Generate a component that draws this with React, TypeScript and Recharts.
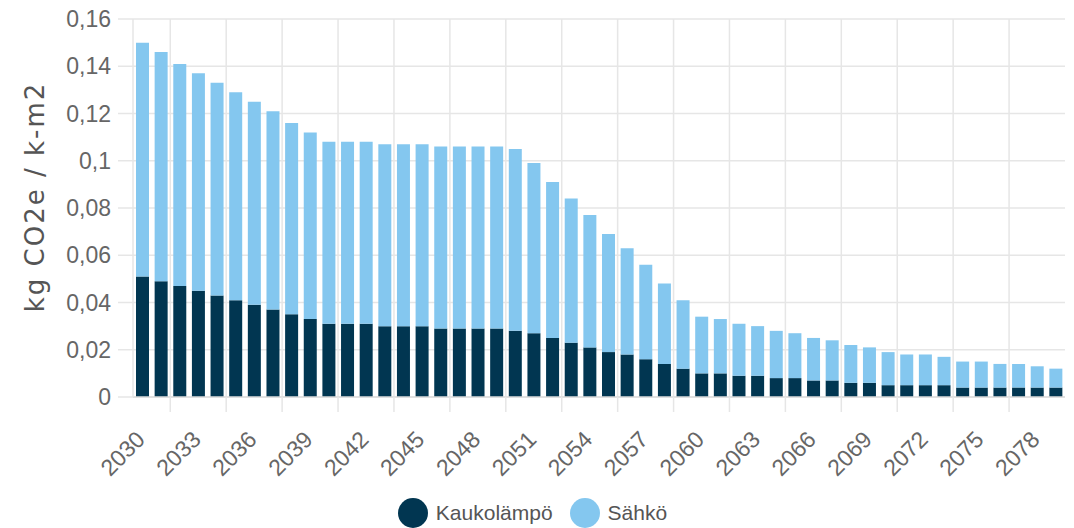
import React from "react";
import { BarChart, Bar, XAxis, YAxis, CartesianGrid, Legend, Label } from "recharts";

const years = [
  2030, 2031, 2032, 2033, 2034, 2035, 2036, 2037, 2038, 2039,
  2040, 2041, 2042, 2043, 2044, 2045, 2046, 2047, 2048, 2049,
  2050, 2051, 2052, 2053, 2054, 2055, 2056, 2057, 2058, 2059,
  2060, 2061, 2062, 2063, 2064, 2065, 2066, 2067, 2068, 2069,
  2070, 2071, 2072, 2073, 2074, 2075, 2076, 2077, 2078, 2079,
];

const kaukolampo = [
  0.051, 0.049, 0.047, 0.045, 0.043, 0.041, 0.039, 0.037, 0.035, 0.033,
  0.031, 0.031, 0.031, 0.030, 0.030, 0.030, 0.029, 0.029, 0.029, 0.029,
  0.028, 0.027, 0.025, 0.023, 0.021, 0.019, 0.018, 0.016, 0.014, 0.012,
  0.010, 0.010, 0.009, 0.009, 0.008, 0.008, 0.007, 0.007, 0.006, 0.006,
  0.005, 0.005, 0.005, 0.005, 0.004, 0.004, 0.004, 0.004, 0.004, 0.004,
];

const sahko = [
  0.099, 0.097, 0.094, 0.092, 0.090, 0.088, 0.086, 0.084, 0.081, 0.079,
  0.077, 0.077, 0.077, 0.077, 0.077, 0.077, 0.077, 0.077, 0.077, 0.077,
  0.077, 0.072, 0.066, 0.061, 0.056, 0.050, 0.045, 0.040, 0.034, 0.029,
  0.024, 0.023, 0.022, 0.021, 0.020, 0.019, 0.018, 0.017, 0.016, 0.015,
  0.014, 0.013, 0.013, 0.012, 0.011, 0.011, 0.010, 0.010, 0.009, 0.008,
];

const yTicks = [0, 0.02, 0.04, 0.06, 0.08, 0.1, 0.12, 0.14, 0.16];

const seriesNames = ["Kaukolämpö", "Sähkö"];
const seriesColors = ["#013651", "#84c7ef"];
const yTitle = "kg CO2e / k-m2";

const data = years.map((y, i) => ({
  year: y,
  kaukolampo: kaukolampo[i],
  sahko: sahko[i],
}));

const W = 1074;
const H = 528;
const MARGIN = { top: 19, right: 9, bottom: 0, left: 0 };
const Y_AXIS_W = 133;
const PLOT_W = W - MARGIN.left - MARGIN.right - Y_AXIS_W;
const GRID = "#e6e6e6";
const TICK_FONT = "'Liberation Sans', Arial, sans-serif";

const XTick = (props: any) => {
  const { x, y, payload } = props;
  const band = PLOT_W / years.length;
  const idx = years.indexOf(payload.value);
  const lx = x + 1.5 * band;
  const ax = x + 4;
  const ay = y + 44;
  return (
    <g>
      {idx + 2 < years.length && (
        <line x1={lx} x2={lx} y1={y} y2={y + 15} stroke={GRID} strokeWidth={1.5} />
      )}
      <text
        x={ax}
        y={ay}
        textAnchor="end"
        transform={`rotate(-45 ${ax} ${ay})`}
        fill="#666"
        fontSize={23}
        fontFamily={TICK_FONT}
      >
        {payload.value}
      </text>
    </g>
  );
};

const LegendContent = () => (
  <div
    style={{
      display: "flex",
      justifyContent: "center",
      alignItems: "center",
      height: 30,
      fontFamily: TICK_FONT,
      fontSize: 21,
      color: "#555",
    }}
  >
    {seriesNames.map((n, i) => (
      <div key={n} style={{ display: "flex", alignItems: "center", marginLeft: i ? 17 : 0 }}>
        <div
          style={{
            width: 30,
            height: 30,
            borderRadius: 15,
            background: seriesColors[i],
            marginRight: 8,
          }}
        />
        <span>{n}</span>
      </div>
    ))}
  </div>
);

const YTitle = (props: any) => {
  const vb = props.viewBox || {};
  const cx = (vb.x || 0) + 35;
  const cy = (vb.y || 0) + (vb.height || 0) / 2 - 11;
  return (
    <text
      x={cx}
      y={cy}
      textAnchor="middle"
      dominantBaseline="central"
      transform={`rotate(-90 ${cx} ${cy})`}
      fill="#555"
      fontSize={26}
      letterSpacing={2}
      fontFamily="'DejaVu Sans', Verdana, sans-serif"
    >
      {yTitle}
    </text>
  );
};

export default function App() {
  return (
    <div style={{ position: "absolute", left: 0, top: 0, width: W, height: H, background: "#fff" }}>
      <BarChart width={W} height={H} data={data} margin={MARGIN}>
        <CartesianGrid
          stroke={GRID}
          strokeWidth={1.5}
          verticalCoordinatesGenerator={({ offset }: any) => {
            const band = offset.width / years.length;
            return years
              .map((_, i) => i)
              .filter((i) => i % 3 === 2)
              .map((i) => offset.left + i * band);
          }}
        />
        <XAxis
          dataKey="year"
          interval={2}
          height={101}
          tickLine={false}
          tickSize={0}
          tickMargin={0}
          axisLine={{ stroke: "#dcdcdc", strokeWidth: 1.5 }}
          tick={<XTick />}
        />
        <YAxis
          width={Y_AXIS_W}
          domain={[0, 0.16]}
          ticks={yTicks}
          interval={0}
          tickSize={15}
          tickMargin={7}
          tickLine={{ stroke: GRID, strokeWidth: 1.5 }}
          axisLine={{ stroke: GRID, strokeWidth: 1.5 }}
          tickFormatter={(v: number) => String(v).replace(".", ",")}
          tick={{ fill: "#666", fontSize: 23, fontFamily: TICK_FONT }}
        >
          <Label content={<YTitle />} />
        </YAxis>
        <Legend verticalAlign="bottom" height={30} content={() => <LegendContent />} />
        <Bar dataKey="kaukolampo" name={seriesNames[0]} stackId="a" fill={seriesColors[0]} barSize={13} isAnimationActive={false} />
        <Bar dataKey="sahko" name={seriesNames[1]} stackId="a" fill={seriesColors[1]} barSize={13} isAnimationActive={false} />
      </BarChart>
    </div>
  );
}
